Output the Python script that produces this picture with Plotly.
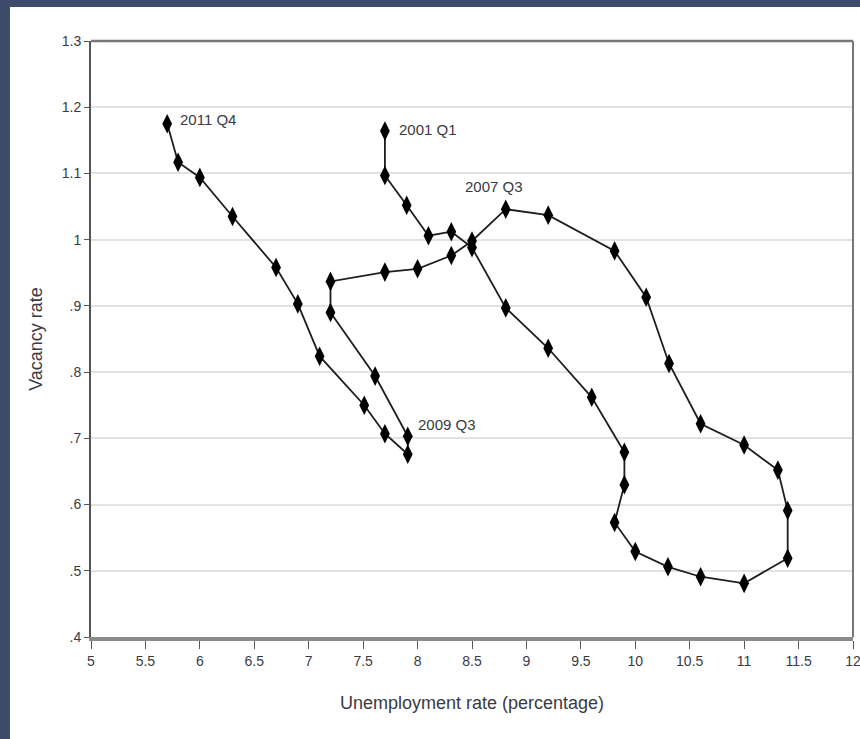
import plotly.graph_objects as go

# Data (path in time order, 2001 Q1 -> 2011 Q4)
unemployment = [7.70, 7.70, 7.90, 8.10, 8.31, 8.50, 8.81, 9.20, 9.60, 9.90, 9.90, 9.81,
                10.00, 10.30, 10.60, 11.00, 11.40, 11.40, 11.31, 11.00, 10.60, 10.31,
                10.10, 9.81, 9.20, 8.81,
                8.50, 8.31, 8.00, 7.70, 7.20, 7.20, 7.61, 7.91,
                7.91, 7.70, 7.51, 7.10, 6.90, 6.70, 6.30, 6.00, 5.80, 5.70]
vacancy = [1.164, 1.097, 1.052, 1.006, 1.012, 0.988, 0.897, 0.836, 0.762, 0.679, 0.630, 0.573,
           0.529, 0.506, 0.491, 0.481, 0.519, 0.591, 0.652, 0.690, 0.722, 0.813,
           0.913, 0.983, 1.037, 1.046,
           0.998, 0.976, 0.956, 0.951, 0.937, 0.890, 0.794, 0.703,
           0.676, 0.707, 0.750, 0.824, 0.903, 0.958, 1.035, 1.094, 1.117, 1.175]

label_texts = ["2001 Q1", "2007 Q3", "2009 Q3", "2011 Q4"]
label_index = [0, 25, 33, 43]

x_ticks = [5, 5.5, 6, 6.5, 7, 7.5, 8, 8.5, 9, 9.5, 10, 10.5, 11, 11.5, 12]
x_ticktext = ["5", "5.5", "6", "6.5", "7", "7.5", "8", "8.5", "9", "9.5", "10", "10.5", "11", "11.5", "12"]
y_ticks = [0.4, 0.5, 0.6, 0.7, 0.8, 0.9, 1.0, 1.1, 1.2, 1.3]
y_ticktext = [".4", ".5", ".6", ".7", ".8", ".9", "1", "1.1", "1.2", "1.3"]

FONT = "Liberation Sans, Arial, sans-serif"
TXT = "#3a3a44"

fig = go.Figure()
fig.add_trace(go.Scatter(
    x=unemployment, y=vacancy, mode="lines+markers",
    line=dict(color="#1e1e1e", width=1.8),
    marker=dict(symbol="diamond-tall", size=14, color="black"),
    hoverinfo="skip", showlegend=False, cliponaxis=False))

# label offsets (style/position, not data)
offsets = {"2001 Q1": (12, 2, "left", "middle"),
           "2007 Q3": (-12, 12, "center", "bottom"),
           "2009 Q3": (8, 12, "left", "middle"),
           "2011 Q4": (11, 4, "left", "middle")}
for txt, i in zip(label_texts, label_index):
    dx, dy, xa, ya = offsets[txt]
    fig.add_annotation(x=unemployment[i], y=vacancy[i], text=txt, showarrow=False,
                       xshift=dx, yshift=dy, xanchor=xa, yanchor=ya,
                       font=dict(family=FONT, size=15, color=TXT))

# white panel over dark background
fig.add_shape(type="rect", xref="paper", yref="paper",
              x0=-81/762, x1=1 + 7/762, y0=-102/596, y1=1 + 34/596,
              fillcolor="white", line=dict(width=0), layer="below")

fig.update_layout(
    width=860, height=739,
    margin=dict(l=91, r=7, t=41, b=102),
    paper_bgcolor="#3e4c6c", plot_bgcolor="white",
    font=dict(family=FONT, size=14, color=TXT),
    xaxis=dict(range=[5, 12], tickvals=x_ticks, ticktext=x_ticktext,
               showgrid=False, zeroline=False, ticklabeloverflow="allow",
               automargin=False,
               showline=True, linecolor="#8a8a8a", linewidth=4, mirror=False,
               ticks="outside", ticklen=8, tickcolor="#555555", tickwidth=1,
               tickfont=dict(family=FONT, size=14, color=TXT),
               title=dict(text="Unemployment rate (percentage)", standoff=30,
                          font=dict(family=FONT, size=18, color=TXT))),
    yaxis=dict(range=[0.4, 1.3], tickvals=y_ticks, ticktext=y_ticktext,
               showgrid=True, gridcolor="#e2e2e2", gridwidth=2, zeroline=False,
               automargin=False,
               showline=True, linecolor="#555555", linewidth=2, mirror=False,
               ticks="outside", ticklen=5, tickcolor="#555555", tickwidth=1,
               tickfont=dict(family=FONT, size=14, color=TXT),
               title=dict(text="Vacancy rate", standoff=14,
                          font=dict(family=FONT, size=18, color=TXT))),
)

# top and right frame lines
fig.add_shape(type="line", xref="paper", yref="paper", x0=0, x1=1, y0=1, y1=1,
              line=dict(color="#777777", width=2.5))
fig.add_shape(type="line", xref="paper", yref="paper", x0=1, x1=1, y0=0, y1=1,
              line=dict(color="#777777", width=2))

fig.write_html("out.html")
